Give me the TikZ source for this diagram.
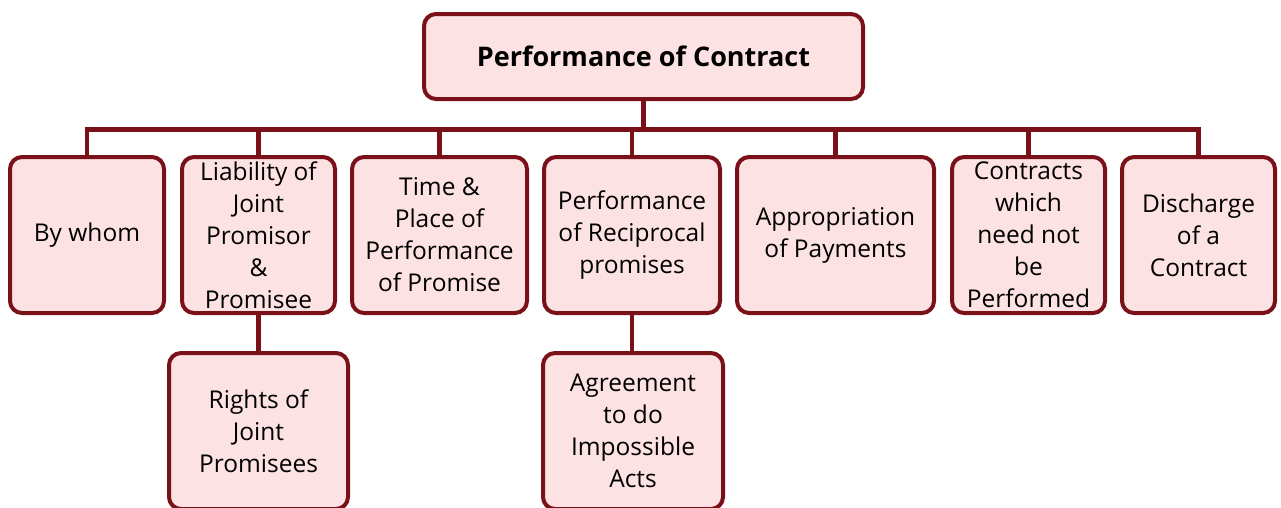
\documentclass[tikz,border=0pt]{standalone}
\usepackage{fontspec}
\setmainfont{Open Sans}
\definecolor{bord}{HTML}{7A1018}
\definecolor{fillc}{HTML}{FDE2E4}
\begin{document}
\begin{tikzpicture}[x=1pt,y=-1pt,
  box/.style={draw=bord, fill=fillc, line width=4pt, rounded corners=12pt, align=center, inner sep=0pt, font=\fontsize{24.5}{32}\selectfont},
  rowbox/.style={box, minimum height=156pt},
  conn/.style={draw=bord, line width=4.5pt}]
\useasboundingbox (0,0) rectangle (1281,507);
\clip (0,0) rectangle (1281,507);
\node[box, minimum width=439pt, minimum height=85pt, font=\fontsize{27}{32}\selectfont\bfseries] (top) at (643.5,56.5) {Performance of Contract};
\node[rowbox, minimum width=154pt] (c1) at (87,235) {By whom};
\node[rowbox, minimum width=153pt] (c2) at (258.5,235) {Liability of\\Joint\\Promisor\\\&\\Promisee};
\node[rowbox, minimum width=175pt] (c3) at (439.5,235) {Time \&\\Place of\\Performance\\of Promise};
\node[rowbox, minimum width=176pt] (c4) at (632,235) {Performance\\of Reciprocal\\promises};
\node[rowbox, minimum width=197pt] (c5) at (835.5,235) {Appropriation\\of Payments};
\node[rowbox, minimum width=153pt] (c6) at (1028.5,235) {Contracts\\which\\need not\\be\\Performed};
\node[rowbox, minimum width=153pt] (c7) at (1198.5,235) {Discharge\\of a\\Contract};
\node[rowbox, minimum width=179pt] (r) at (258.5,431) {Rights of\\Joint\\Promisees};
\node[rowbox, minimum width=180pt] (ag) at (633,431) {Agreement\\to do\\Impossible\\Acts};
\foreach \c in {c1,c2,c3,c4,c5,c6,c7}
  \draw[conn] (top.south) -- ++(0,28.5) -| (\c.north);
\draw[conn] (c2.south) -- (r.north);
\draw[conn] (c4.south) -- (c4.south |- ag.north);
\end{tikzpicture}
\end{document}
